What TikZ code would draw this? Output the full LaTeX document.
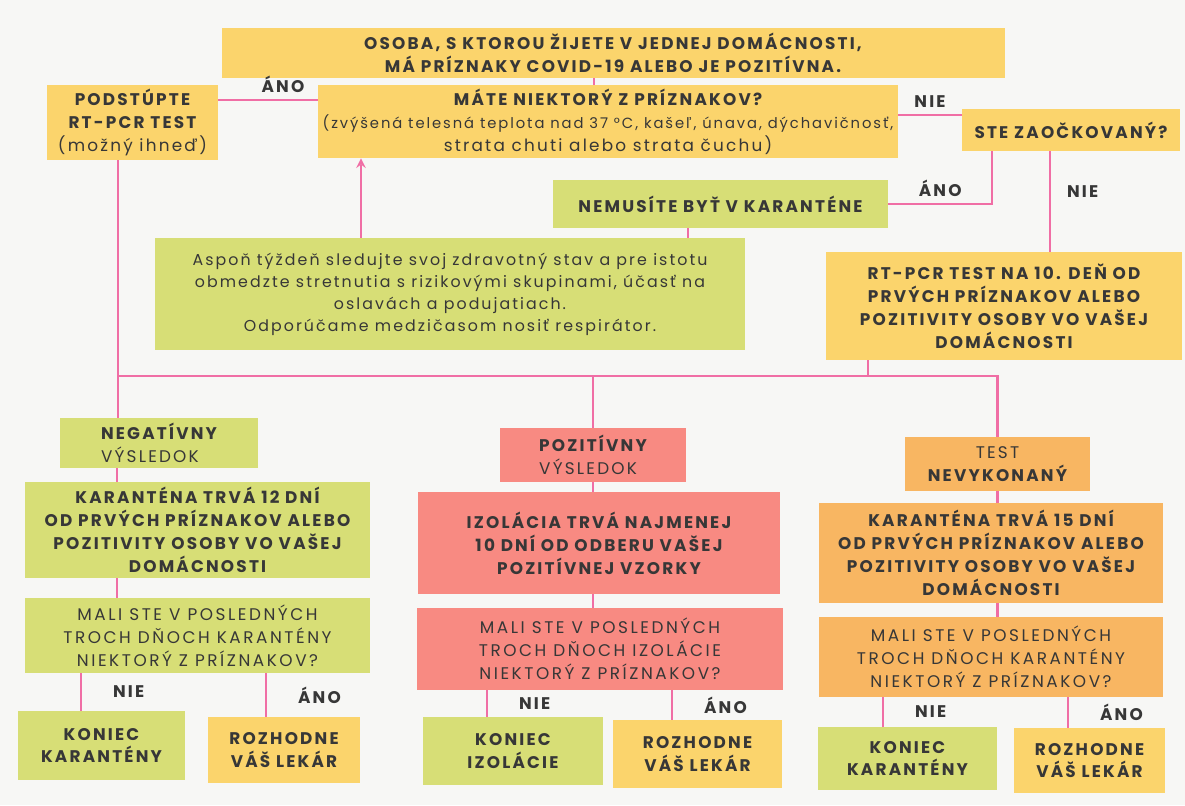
\documentclass[tikz,border=0pt]{standalone}
\usepackage{fontspec}
\setmainfont{Poppins}[LetterSpace=13]
\usetikzlibrary{arrows}
\definecolor{paper}{RGB}{247,247,245}
\definecolor{ink}{RGB}{55,55,55}
\definecolor{boxyellow}{RGB}{251,212,108}
\definecolor{boxgreen}{RGB}{215,222,118}
\definecolor{boxred}{RGB}{248,138,130}
\definecolor{boxorange}{RGB}{248,182,98}
\definecolor{wire}{RGB}{240,110,165}
\tikzstyle{plainbox} = [rectangle, align=center, inner sep=2pt, text=ink,
                        font=\bfseries\fontsize{9.6}{13}\selectfont]
\tikzstyle{yellowbox} = [plainbox, fill=boxyellow]
\tikzstyle{greenbox} = [plainbox, fill=boxgreen]
\tikzstyle{redbox} = [plainbox, fill=boxred]
\tikzstyle{orangebox} = [plainbox, fill=boxorange]
\tikzstyle{askfont} = [font=\mdseries\fontsize{9.6}{13}\selectfont\addfontfeature{LetterSpace=15}]
\tikzstyle{answer} = [text=ink, font=\bfseries\fontsize{9.6}{10}\selectfont]
\tikzstyle{link} = [draw=wire, line width=1.4pt]
\tikzstyle{arrow} = [link, ->, >=stealth]

\begin{document}
\begin{tikzpicture}
        \useasboundingbox (0,0) rectangle (23.7,-16.1);
        \fill[paper] (0,0) rectangle (23.7,-16.1);

        %Top of the chart
        \node (Person) [yellowbox, minimum width=15.66cm, minimum height=1cm] at (12.26,-1.06)
              {OSOBA, S KTOROU ŽIJETE V JEDNEJ DOMÁCNOSTI,\\MÁ PRÍZNAKY COVID-19 ALEBO JE POZITÍVNA.};
        \node (Symptoms) [yellowbox, minimum width=11.6cm, minimum height=1.46cm] at (12.16,-2.43)
              {MÁTE NIEKTORÝ Z PRÍZNAKOV?\\
               \mdseries\fontsize{8.4}{11.5}\selectfont (zvýšená telesná teplota nad 37 °C, kašeľ, únava, dýchavičnosť,\\
               \mdseries strata chuti alebo strata čuchu)};
        \node (PcrNow) [yellowbox, minimum width=3.42cm, minimum height=1.5cm] at (2.65,-2.45)
              {PODSTÚPTE\\RT-PCR TEST\\\mdseries(možný ihneď)};
        \node (Vaccinated) [yellowbox, minimum width=4.36cm, minimum height=0.84cm] at (21.42,-2.6)
              {STE ZAOČKOVANÝ?};
        \node (NoQuarantine) [greenbox, minimum width=6.7cm, minimum height=0.96cm] at (14.41,-4.08)
              {NEMUSÍTE BYŤ V KARANTÉNE};
        \node (Monitor) [greenbox, minimum width=11.8cm, minimum height=2.24cm,
                         font=\mdseries\fontsize{9}{12.5}\selectfont] at (9,-5.88)
              {Aspoň týždeň sledujte svoj zdravotný stav a pre istotu\\
               obmedzte stretnutia s rizikovými skupinami, účasť na\\
               oslavách a podujatiach.\\
               Odporúčame medzičasom nosiť respirátor.};
        \node (PcrDay10) [yellowbox, minimum width=7.12cm, minimum height=2.16cm] at (20.08,-6.12)
              {RT-PCR TEST NA 10. DEŇ OD\\PRVÝCH PRÍZNAKOV ALEBO\\POZITIVITY OSOBY VO VAŠEJ\\DOMÁCNOSTI};

        %Lines at the top
        \draw [link] ([xshift=-0.28cm]Symptoms.north) -- ([xshift=-0.28cm]Symptoms.north |- Person.south);
        \draw [link] ([yshift=0.43cm]Symptoms.west) -- ([yshift=0.43cm]Symptoms.west -| PcrNow.east)
              node [answer, midway, above, xshift=0.3cm] {ÁNO};
        \draw [link] ([yshift=0.13cm]Symptoms.east) -- ([yshift=0.13cm]Symptoms.east -| Vaccinated.west)
              node [answer, midway, above] {NIE};
        \draw [link] ([xshift=-1.58cm]Vaccinated.south) |- (NoQuarantine.east)
              node [answer, pos=0.75, above] {ÁNO};
        \draw [link] ([xshift=-0.42cm]Vaccinated.south) -- ([xshift=-0.42cm]Vaccinated.south |- PcrDay10.north)
              node [answer, pos=0.4, right, xshift=0.2cm] {NIE};
        \draw [link] ([xshift=-0.65cm]NoQuarantine.south) -- ([xshift=-0.65cm]NoQuarantine.south |- Monitor.north);
        \draw [arrow] ([xshift=-1.78cm]Monitor.north) -- ([xshift=-1.78cm]Monitor.north |- Symptoms.south);

        %Results
        \node (Negative) [greenbox, align=left, minimum width=3.96cm, minimum height=1cm] at (3.18,-8.86)
              {NEGATÍVNY\\\mdseries VÝSLEDOK};
        \node (Positive) [redbox, align=left, minimum width=3.72cm, minimum height=1.08cm] at (11.86,-9.1)
              {POZITÍVNY\\\mdseries VÝSLEDOK};
        \node (NoTest) [orangebox, minimum width=3.7cm, minimum height=1.08cm] at (19.95,-9.28)
              {\mdseries TEST\\NEVYKONANÝ};

        %Lines to the results
        \coordinate (BusL) at ([xshift=-0.84cm]Negative.north |- 0,-7.52);
        \coordinate (BusR) at (NoTest.north |- BusL);
        \draw [link] ([xshift=-0.29cm]PcrNow.south) -- ([xshift=-0.29cm]PcrNow.south |- Negative.north);
        \draw [link] (BusL) -- (BusR) -- (NoTest.north);
        \draw [link] ([xshift=-2.72cm]PcrDay10.south) -- ([xshift=-2.72cm]PcrDay10.south |- BusL);
        \draw [link] (Positive.north) -- (Positive.north |- BusL);

        %Quarantine and isolation
        \node (Quar12) [greenbox, minimum width=6.9cm, minimum height=1.92cm] at (3.95,-10.6)
              {KARANTÉNA TRVÁ 12 DNÍ\\OD PRVÝCH PRÍZNAKOV ALEBO\\POZITIVITY OSOBY VO VAŠEJ\\DOMÁCNOSTI};
        \node (Iso10) [redbox, minimum width=7.24cm, minimum height=2.04cm] at (11.98,-10.86)
              {IZOLÁCIA TRVÁ NAJMENEJ\\10 DNÍ OD ODBERU VAŠEJ\\POZITÍVNEJ VZORKY};
        \node (Quar15) [orangebox, minimum width=6.88cm, minimum height=2cm] at (19.82,-11.06)
              {KARANTÉNA TRVÁ 15 DNÍ\\OD PRVÝCH PRÍZNAKOV ALEBO\\POZITIVITY OSOBY VO VAŠEJ\\DOMÁCNOSTI};

        \node (Ask12) [greenbox, askfont, minimum width=6.9cm, minimum height=1.5cm] at (3.95,-12.71)
              {MALI STE V POSLEDNÝCH\\TROCH DŇOCH KARANTÉNY\\NIEKTORÝ Z PRÍZNAKOV?};
        \node (AskIso) [redbox, askfont, minimum width=7.32cm, minimum height=1.64cm] at (12,-12.98)
              {MALI STE V POSLEDNÝCH\\TROCH DŇOCH IZOLÁCIE\\NIEKTORÝ Z PRÍZNAKOV?};
        \node (Ask15) [orangebox, askfont, minimum width=6.88cm, minimum height=1.6cm] at (19.82,-13.14)
              {MALI STE V POSLEDNÝCH\\TROCH DŇOCH KARANTÉNY\\NIEKTORÝ Z PRÍZNAKOV?};

        %End boxes
        \node (End12) [greenbox, minimum width=3.34cm, minimum height=1.38cm] at (2.03,-14.91) {KONIEC\\KARANTÉNY};
        \node (Doc12) [yellowbox, minimum width=3.04cm, minimum height=1.32cm] at (5.68,-15) {ROZHODNE\\VÁŠ LEKÁR};
        \node (EndIso) [greenbox, minimum width=3.6cm, minimum height=1.36cm] at (10.26,-15.02) {KONIEC\\IZOLÁCIE};
        \node (DocIso) [yellowbox, minimum width=3.38cm, minimum height=1.36cm] at (13.95,-15.08) {ROZHODNE\\VÁŠ LEKÁR};
        \node (End15) [greenbox, minimum width=3.58cm, minimum height=1.26cm] at (18.15,-15.17) {KONIEC\\KARANTÉNY};
        \node (Doc15) [yellowbox, minimum width=3.02cm, minimum height=1.3cm] at (21.79,-15.21) {ROZHODNE\\VÁŠ LEKÁR};

        %Lines in the columns
        \draw [link] ([xshift=-0.84cm]Negative.south) -- ([xshift=-0.84cm]Negative.south |- Quar12.north);
        \draw [link] ([xshift=-0.84cm]Negative.south |- Quar12.south) -- ([xshift=-0.84cm]Negative.south |- Ask12.north);
        \draw [link] (Positive.south) -- (Positive.south |- Iso10.north);
        \draw [link] (Positive.south |- Iso10.south) -- (Positive.south |- AskIso.north);
        \draw [link] (NoTest.south) -- (NoTest.south |- Quar15.north);
        \draw [link] (NoTest.south |- Quar15.south) -- (NoTest.south |- Ask15.north);

        %Answers
        \draw [link] ([xshift=-0.41cm]End12.north |- Ask12.south) -- ([xshift=-0.41cm]End12.north)
              node [answer, midway, right=0.5cm] {NIE};
        \draw [link] ([xshift=-0.36cm]Doc12.north |- Ask12.south) -- ([xshift=-0.36cm]Doc12.north)
              node [answer, midway, right=0.5cm] {ÁNO};
        \draw [link] ([xshift=-0.52cm]EndIso.north |- AskIso.south) -- ([xshift=-0.52cm]EndIso.north)
              node [answer, midway, right=0.5cm] {NIE};
        \draw [link] ([xshift=-0.51cm]DocIso.north |- AskIso.south) -- ([xshift=-0.51cm]DocIso.north)
              node [answer, midway, right=0.5cm] {ÁNO};
        \draw [link] ([xshift=-0.49cm]End15.north |- Ask15.south) -- ([xshift=-0.49cm]End15.north)
              node [answer, midway, right=0.5cm] {NIE};
        \draw [link] ([xshift=-0.43cm]Doc15.north |- Ask15.south) -- ([xshift=-0.43cm]Doc15.north)
              node [answer, midway, right=0.5cm] {ÁNO};

\end{tikzpicture}
\end{document}
